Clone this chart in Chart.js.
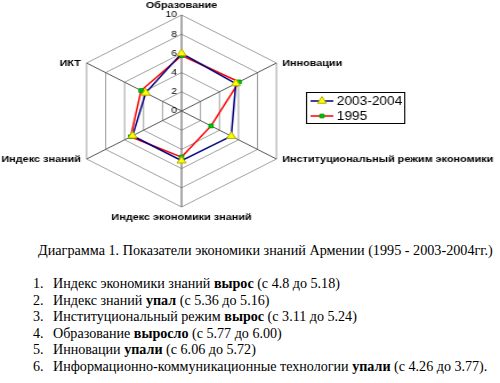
<!DOCTYPE html>
<html>
<head>
<meta charset="utf-8">
<script src="https://cdn.jsdelivr.net/npm/chart.js@4"></script>
<style>
  body { margin: 0; background: #fff; width: 500px; height: 383px; overflow: hidden; position: relative; }
  #wrap { position: absolute; left: 0; top: 0; width: 438px; height: 225px; transform: scaleX(1.1416); transform-origin: 0 0; }
  #caption { position: absolute; left: 38px; top: 242px; font: 14.2px "Liberation Serif", serif; color: #000; white-space: nowrap; }
  #notes { position: absolute; left: 0; top: 275px; margin: 0; padding: 0; list-style: none; font: 14.1px "Liberation Serif", serif; color: #000; }
  #notes li { position: relative; padding-left: 53px; height: 16.6px; line-height: 16.6px; white-space: nowrap; }
  #notes li span.n { position: absolute; left: 33px; }
</style>
</head>
<body>
<div id="wrap"><canvas id="radar" width="438" height="225"></canvas></div>
<div id="caption">Диаграмма 1. Показатели экономики знаний Армении (1995 - 2003-2004гг.)</div>
<ol id="notes"></ol>
<script>
const axes = ["Образование", "Инновации", "Институциональный режим экономики",
  "Индекс экономики знаний", "Индекс знаний", "ИКТ"];
const series2003 = [6.00, 5.72, 5.24, 5.18, 5.16, 3.77];
const series1995 = [5.77, 6.06, 3.11, 4.8, 5.36, 4.26];
const tickValues = [0, 2, 4, 6, 8, 10];

const notes = [
  ["Индекс экономики знаний ", "вырос", " (с 4.8 до 5.18)"],
  ["Индекс знаний ", "упал", " (с 5.36 до 5.16)"],
  ["Институциональный режим ", "вырос", " (с 3.11 до 5.24)"],
  ["Образование ", "выросло", " (с 5.77 до 6.00)"],
  ["Инновации ", "упали", " (с 6.06 до 5.72)"],
  ["Информационно-коммуникационные технологии ", "упали", " (с 4.26 до 3.77)."]
];

const list = document.getElementById("notes");
notes.forEach((n, i) => {
  const li = document.createElement("li");
  li.innerHTML = `<span class="n">${i + 1}.</span>${n[0]}<b>${n[1]}</b>${n[2]}`;
  list.appendChild(li);
});

// axis names, tick numbers and the boxed legend
const decorations = {
  id: "decorations",
  afterDraw(chart) {
    const ctx = chart.ctx;
    const r = chart.scales.r;
    ctx.save();

    ctx.fillStyle = "#000";
    ctx.font = "9px 'Liberation Sans', Arial, sans-serif";
    ctx.textAlign = "right";
    ctx.textBaseline = "middle";
    tickValues.forEach(v => {
      ctx.fillText(String(v), r.xCenter - 4, r.yCenter - r.getDistanceFromCenterForValue(v));
    });

    ctx.font = "bold 9.5px 'Liberation Sans', Arial, sans-serif";
    axes.forEach((name, i) => {
      const p = r.getPointPosition(i, r.drawingArea);
      if (Math.abs(p.x - r.xCenter) < 1) {
        ctx.textAlign = "center";
        ctx.fillText(name, p.x, p.y < r.yCenter ? p.y - 10 : p.y + 10);
      } else if (p.x > r.xCenter) {
        ctx.textAlign = "left";
        ctx.fillText(name, p.x + 5, p.y);
      } else {
        ctx.textAlign = "right";
        ctx.fillText(name, p.x - 5, p.y);
      }
    });

    // legend
    ctx.strokeStyle = "#000";
    ctx.lineWidth = 1;
    ctx.strokeRect(268.5, 92.5, 86, 31);
    ctx.font = "12px 'Liberation Sans', Arial, sans-serif";
    ctx.textAlign = "left";
    chart.data.datasets.forEach((ds, i) => {
      const y = 101 + i * 15;
      ctx.strokeStyle = ds.borderColor;
      ctx.lineWidth = ds.borderWidth;
      ctx.beginPath();
      ctx.moveTo(272, y);
      ctx.lineTo(292, y);
      ctx.stroke();
      ctx.fillStyle = ds.pointBackgroundColor;
      ctx.strokeStyle = ds.pointBorderColor;
      ctx.lineWidth = 1;
      Chart.helpers.drawPoint(ctx, { pointStyle: ds.pointStyle, radius: ds.pointRadius, borderWidth: 1, rotation: 0 }, 282, y);
      ctx.fillStyle = "#000";
      ctx.fillText(ds.label, 295, y + 0.5);
    });
    ctx.restore();
  }
};

new Chart(document.getElementById("radar"), {
  type: "radar",
  data: {
    labels: axes,
    datasets: [
      {
        label: "2003-2004",
        data: series2003,
        borderColor: "#000080",
        borderWidth: 1.5,
        fill: false,
        pointStyle: "triangle",
        pointRadius: 4.5,
        pointBackgroundColor: "#ffff00",
        pointBorderColor: "#b0b000",
        pointBorderWidth: 1
      },
      {
        label: "1995",
        data: series1995,
        borderColor: "#ff0000",
        borderWidth: 1.5,
        fill: false,
        pointStyle: "rect",
        pointRadius: 2.6,
        pointBackgroundColor: "#00c000",
        pointBorderColor: "#00a000",
        pointBorderWidth: 1
      }
    ]
  },
  options: {
    responsive: false,
    animation: false,
    layout: { padding: { top: 15, bottom: 18, left: 63, right: 183 } },
    plugins: { legend: { display: false }, tooltip: { enabled: false } },
    elements: { line: { tension: 0 } },
    scales: {
      r: {
        min: 0,
        max: 10,
        ticks: { display: false, stepSize: 2 },
        pointLabels: { display: false },
        grid: { color: "#a0a0a0", lineWidth: 1 },
        angleLines: { color: "#555", lineWidth: 1 }
      }
    }
  },
  plugins: [decorations]
});
</script>
</body>
</html>
